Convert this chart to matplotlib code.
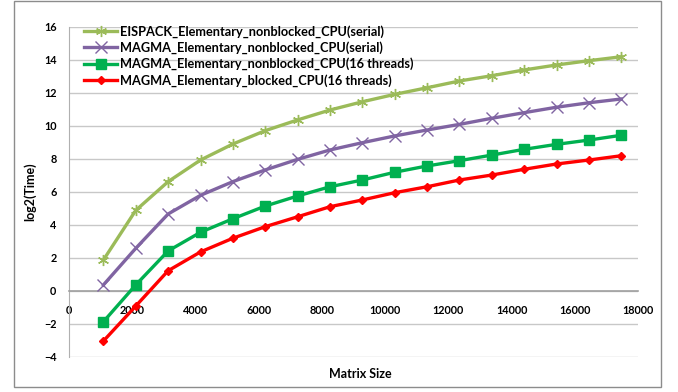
import numpy as np
import matplotlib.pyplot as plt
from matplotlib.patches import Rectangle

# matrix sizes (x) and log2 of run time for each implementation
sizes = [1088, 2112, 3136, 4160, 5184, 6208, 7232, 8256, 9280,
         10304, 11328, 12352, 13376, 14400, 15424, 16448, 17472]

eispack_serial = [1.86, 4.87, 6.61, 7.92, 8.89, 9.70, 10.35, 10.95, 11.45,
                  11.90, 12.30, 12.71, 13.03, 13.38, 13.68, 13.94, 14.18]
magma_nonblocked_serial = [0.35, 2.57, 4.65, 5.78, 6.61, 7.32, 7.96, 8.53, 8.97,
                           9.38, 9.74, 10.08, 10.45, 10.79, 11.12, 11.39, 11.62]
magma_nonblocked_16 = [-1.88, 0.35, 2.41, 3.54, 4.36, 5.13, 5.74, 6.30, 6.71,
                       7.18, 7.56, 7.88, 8.22, 8.57, 8.87, 9.13, 9.42]
magma_blocked_16 = [-3.05, -0.93, 1.21, 2.35, 3.18, 3.88, 4.48, 5.09, 5.50,
                    5.94, 6.30, 6.71, 7.01, 7.36, 7.68, 7.92, 8.18]

labels = ['EISPACK_Elementary_nonblocked_CPU(serial)',
          'MAGMA_Elementary_nonblocked_CPU(serial)',
          'MAGMA_Elementary_nonblocked_CPU(16 threads)',
          'MAGMA_Elementary_blocked_CPU(16 threads)']

plt.rcParams['font.family'] = ['Lato', 'DejaVu Sans']
plt.rcParams['font.weight'] = 'bold'

W, H = 678, 392
fig = plt.figure(figsize=(W / 100, H / 100), dpi=100)
ax = fig.add_axes([69 / W, 1 - 356.7 / H, (638 - 69) / W, (356.7 - 26.7) / H])

# chart border
fig.patches.append(Rectangle((14 / W, 1 - 387 / H), (661 - 14) / W, (387 - 1) / H,
                             transform=fig.transFigure, fill=False,
                             edgecolor='#8c8c8c', lw=1.0))

lw = 2.4
ax.plot(sizes, eispack_serial, color='#9BBB59', lw=lw, marker=(6, 2, 0),
        ms=8, mew=1.0, label=labels[0], zorder=3)
ax.plot(sizes, magma_nonblocked_serial, color='#8064A2', lw=lw, marker='x',
        ms=8, mew=1.0, label=labels[1], zorder=3)
ax.plot(sizes, magma_nonblocked_16, color='#00B050', lw=lw, marker='s',
        ms=6.5, label=labels[2], zorder=3)
ax.plot(sizes, magma_blocked_16, color='#FF0000', lw=lw, marker='D',
        ms=4.5, label=labels[3], zorder=3)

ax.set_xlim(0, 18000)
ax.set_ylim(-4, 16)
ax.set_xticks(np.arange(0, 18001, 2000))
ax.set_yticks(np.arange(-4, 17, 2))
ax.grid(axis='y', color='#c8c8c8', lw=1.0)
ax.set_axisbelow(True)

for s in ['top', 'right']:
    ax.spines[s].set_visible(False)
ax.spines['bottom'].set_position(('data', 0))
ax.spines['bottom'].set_color('#a0a0a0')
ax.spines['left'].set_color('#b0b0b0')
ax.spines['bottom'].set_linewidth(1.2)
ax.tick_params(axis='both', length=0, labelsize=7.8)
ax.tick_params(axis='x', pad=10)
ax.tick_params(axis='y', pad=9)

ax.set_ylabel('log2(Time)', fontsize=9, fontweight='bold')
ax.yaxis.set_label_coords(-0.058, 0.5)
fig.text(360 / W, 1 - 374 / H, 'Matrix Size', ha='center', va='center',
         fontsize=9, fontweight='bold')

leg = ax.legend(loc='upper left', bbox_to_anchor=(84 / W, 1 - 25 / H),
                bbox_transform=fig.transFigure, frameon=False,
                fontsize=9.2, handlelength=2.6, handletextpad=0.2,
                labelspacing=0.28, borderaxespad=0, borderpad=0)

fig.savefig('out.png', dpi=100)
